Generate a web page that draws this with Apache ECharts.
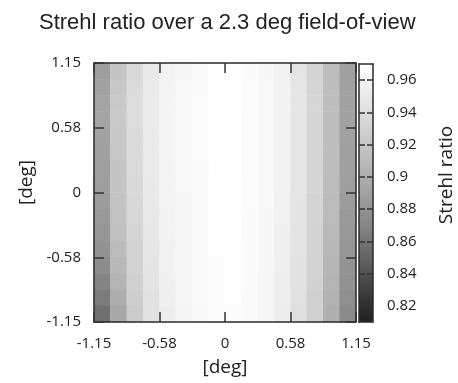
<!DOCTYPE html>
<html>
<head>
<meta charset="utf-8">
<script src="https://cdn.jsdelivr.net/npm/echarts@6/dist/echarts.min.js"></script>
<style>
html, body { margin: 0; padding: 0; background: #fff; }
#chart { width: 458px; height: 383px; }
</style>
</head>
<body>
<div id="chart"></div>
<script>
// cell centres of the 16x16 field grid, in degrees
const xCells = ["-1.078", "-0.934", "-0.791", "-0.647", "-0.503", "-0.359", "-0.216", "-0.072", "0.072", "0.216", "0.359", "0.503", "0.647", "0.791", "0.934", "1.078"];
const yCells = ["-1.078", "-0.934", "-0.791", "-0.647", "-0.503", "-0.359", "-0.216", "-0.072", "0.072", "0.216", "0.359", "0.503", "0.647", "0.791", "0.934", "1.078"];

const tickLabels = ["-1.15", "-0.58", "0", "0.58", "1.15"];
const cbTicks = [0.82, 0.84, 0.86, 0.88, 0.9, 0.92, 0.94, 0.96];

// Strehl ratio per cell, one array per row, top row (y = +1.15) first
const strehlRows = [
	[0.888, 0.9195, 0.9363, 0.9489, 0.9579, 0.963, 0.966, 0.968, 0.9685, 0.9665, 0.963, 0.957, 0.946, 0.932, 0.912, 0.889],
	[0.891, 0.921, 0.938, 0.9507, 0.9589, 0.9635, 0.9665, 0.9685, 0.969, 0.967, 0.9635, 0.958, 0.947, 0.933, 0.913, 0.8905],
	[0.8925, 0.9225, 0.9388, 0.9516, 0.9598, 0.964, 0.967, 0.969, 0.9695, 0.9672, 0.964, 0.9585, 0.9475, 0.9335, 0.9135, 0.891],
	[0.8925, 0.9225, 0.9388, 0.9516, 0.9598, 0.964, 0.967, 0.969, 0.9698, 0.9675, 0.964, 0.9585, 0.9475, 0.9335, 0.9135, 0.891],
	[0.891, 0.921, 0.938, 0.9507, 0.9598, 0.964, 0.967, 0.969, 0.97, 0.9675, 0.964, 0.9585, 0.9475, 0.9335, 0.913, 0.8905],
	[0.8895, 0.921, 0.938, 0.9507, 0.9598, 0.964, 0.967, 0.969, 0.97, 0.9675, 0.964, 0.958, 0.947, 0.933, 0.913, 0.8895],
	[0.8895, 0.9195, 0.9372, 0.9507, 0.9589, 0.9635, 0.9665, 0.969, 0.9698, 0.9672, 0.9638, 0.958, 0.947, 0.933, 0.9125, 0.889],
	[0.888, 0.9195, 0.9363, 0.9498, 0.9589, 0.9635, 0.9665, 0.9685, 0.9695, 0.967, 0.9635, 0.9578, 0.9465, 0.9325, 0.912, 0.888],
	[0.8866, 0.918, 0.9355, 0.9498, 0.9589, 0.963, 0.966, 0.9685, 0.969, 0.967, 0.9635, 0.9575, 0.946, 0.932, 0.911, 0.8866],
	[0.885, 0.9163, 0.9347, 0.9489, 0.9579, 0.963, 0.966, 0.968, 0.969, 0.9668, 0.963, 0.957, 0.9455, 0.9315, 0.9105, 0.885],
	[0.8823, 0.9146, 0.933, 0.948, 0.9579, 0.963, 0.966, 0.968, 0.9688, 0.9665, 0.963, 0.9565, 0.945, 0.931, 0.9095, 0.8837],
	[0.8794, 0.9113, 0.931, 0.947, 0.957, 0.9625, 0.9655, 0.968, 0.9685, 0.9665, 0.9628, 0.956, 0.9445, 0.9305, 0.908, 0.8823],
	[0.875, 0.908, 0.9296, 0.946, 0.957, 0.962, 0.9655, 0.9675, 0.968, 0.966, 0.9625, 0.9555, 0.944, 0.93, 0.9065, 0.8808],
	[0.8695, 0.905, 0.928, 0.945, 0.956, 0.962, 0.965, 0.9675, 0.968, 0.966, 0.962, 0.955, 0.9435, 0.929, 0.905, 0.8794],
	[0.8643, 0.9, 0.9263, 0.9443, 0.956, 0.9615, 0.965, 0.967, 0.9678, 0.9658, 0.962, 0.9545, 0.943, 0.9285, 0.9035, 0.877],
	[0.8566, 0.8955, 0.9245, 0.9434, 0.955, 0.961, 0.9645, 0.967, 0.9675, 0.9655, 0.9615, 0.954, 0.9425, 0.928, 0.902, 0.874]
];

const cells = [];
strehlRows.forEach((row, r) => {
	row.forEach((v, c) => cells.push([c, strehlRows.length - 1 - r, v]));
});

// gnuplot-like grey palette (gamma 1.5)
const greys = ["#202020", "#404040", "#656565", "#858585", "#a1a1a1", "#bababa", "#d2d2d2", "#e9e9e9", "#ffffff"];

const font = "'Liberation Sans', Arial, sans-serif";
const labelFont = "'Open Sans', 'Liberation Sans', sans-serif";
const ink = "#222222";
const frame = { show: true, onZero: false, lineStyle: { color: "#2a2a2a", width: 1.5 } };
const tickStyle = { color: "#333333", width: 1.5 };

const degAxis = extra => ({
	type: "value",
	gridIndex: 0,
	min: -1.15,
	max: 1.15,
	interval: 0.575,
	z: 5,
	axisLine: frame,
	splitLine: { show: false },
	axisTick: { show: true, inside: true, length: 10, lineStyle: tickStyle },
	axisLabel: { show: false },
	...extra
});

const degLabel = v => tickLabels[Math.round((v + 1.15) / 0.575)];

const chart = echarts.init(document.getElementById("chart"), null, { renderer: "canvas" });

chart.setOption({
	animation: false,
	title: {
		text: "Strehl ratio over a 2.3 deg field-of-view",
		left: 34,
		top: 7,
		textStyle: { fontFamily: font, fontSize: 22, fontWeight: "normal", color: ink }
	},
	grid: [
		{ left: 94, top: 63, width: 262, height: 259 },
		{ left: 359, top: 64, width: 14, height: 258 }
	],
	xAxis: [
		{ type: "category", gridIndex: 0, data: xCells, show: false },
		degAxis({
			position: "bottom",
			axisLabel: { show: true, margin: 14, formatter: degLabel, fontFamily: labelFont, fontSize: 15, color: ink },
			name: "[deg]",
			nameLocation: "middle",
			nameGap: 36,
			nameTextStyle: { fontFamily: labelFont, fontSize: 19, color: ink }
		}),
		degAxis({ position: "top" }),
		{ type: "value", gridIndex: 1, position: "bottom", z: 10, axisLine: frame, axisTick: { show: false }, axisLabel: { show: false }, splitLine: { show: false } },
		{ type: "value", gridIndex: 1, position: "top", z: 10, axisLine: frame, axisTick: { show: false }, axisLabel: { show: false }, splitLine: { show: false } }
	],
	yAxis: [
		{ type: "category", gridIndex: 0, data: yCells, show: false },
		degAxis({
			position: "left",
			axisLabel: { show: true, margin: 13, formatter: degLabel, fontFamily: labelFont, fontSize: 15, color: ink },
			name: "[deg]",
			nameLocation: "middle",
			nameGap: 56,
			nameTextStyle: { fontFamily: labelFont, fontSize: 19, color: ink, padding: [0, 0, 0, 20] }
		}),
		degAxis({ position: "right" }),
		{
			type: "value",
			gridIndex: 1,
			position: "right",
			min: 0.81,
			max: 0.97,
			z: 10,
			axisLine: frame,
			splitLine: { show: false },
			axisTick: { show: true, inside: true, length: 6, customValues: cbTicks, lineStyle: tickStyle },
			axisLabel: { show: true, margin: 14, customValues: cbTicks, formatter: v => String(v), fontFamily: labelFont, fontSize: 15, color: ink },
			name: "Strehl ratio",
			nameLocation: "middle",
			nameRotate: 90,
			nameGap: 64,
			nameTextStyle: { fontFamily: labelFont, fontSize: 19, color: ink, padding: [0, 0, 0, 36] }
		},
		{
			type: "value",
			gridIndex: 1,
			position: "left",
			min: 0.81,
			max: 0.97,
			z: 10,
			axisLine: frame,
			splitLine: { show: false },
			axisTick: { show: true, inside: true, length: 6, customValues: cbTicks, lineStyle: tickStyle },
			axisLabel: { show: false }
		}
	],
	visualMap: {
		type: "continuous",
		min: 0.81,
		max: 0.97,
		seriesIndex: 0,
		calculable: false,
		hoverLink: false,
		left: 359,
		top: 64,
		padding: 0,
		itemWidth: 14,
		itemHeight: 258,
		inRange: { color: greys }
	},
	series: [
		{
			type: "heatmap",
			xAxisIndex: 0,
			yAxisIndex: 0,
			data: cells,
			itemStyle: { borderWidth: 0 }
		}
	]
});
</script>
</body>
</html>
